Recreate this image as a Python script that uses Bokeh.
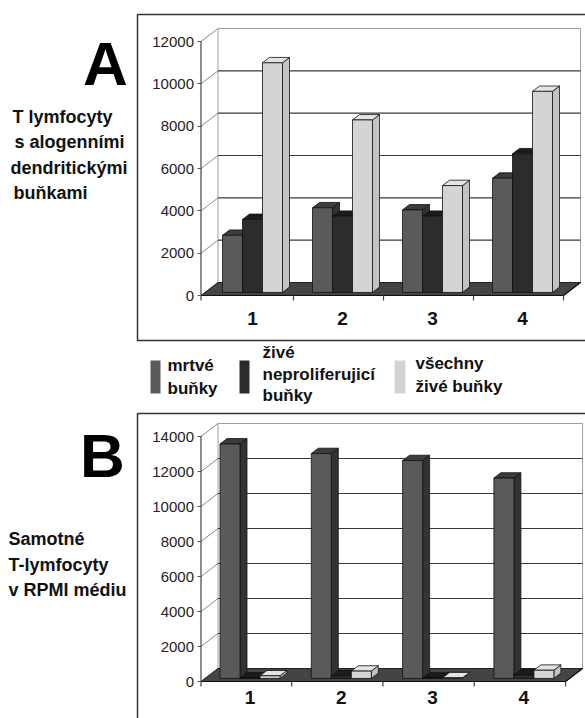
from bokeh.plotting import figure
from bokeh.models import (Range1d, FixedTicker, ColumnDataSource, CustomJSTickFormatter)
from bokeh.layouts import column
from bokeh.embed import file_html
from bokeh.resources import INLINE
from bokeh.core.properties import value

# ---------------- data ----------------
categories = ["1", "2", "3", "4"]
series_labels = [["mrtvé", "buňky"],
                 ["živé", "neproliferujicí", "buňky"],
                 ["všechny", "živé buňky"]]
series_colors = ["#5a5a5a", "#2c2c2c", "#d4d4d4"]
top_colors = ["#3c3c3c", "#1c1c1c", "#e4e4e4"]
side_colors = ["#333333", "#141414", "#c2c2c2"]

a_mrtve = [2700, 4000, 3900, 5400]
a_zive = [3450, 3600, 3600, 6550]
a_vsechny = [10850, 8150, 5050, 9500]
a_ticks = [0, 2000, 4000, 6000, 8000, 10000, 12000]

b_mrtve = [13400, 12850, 12450, 11450]
b_zive = [30, 150, 20, 200]
b_vsechny = [150, 420, 40, 470]
b_ticks = [0, 2000, 4000, 6000, 8000, 10000, 12000, 14000]

a_side_text = ["T lymfocyty", "s alogenními", "dendritickými", "buňkami"]
b_side_text = ["Samotné", "T-lymfocyty", "v RPMI médiu"]

FONT = "Liberation Sans"
W = 585


class Geo:
    """maps page pixels to the data space of one panel"""
    def __init__(self, page_y0, H, X1, KX, Y0, KY):
        self.page_y0, self.H, self.X1, self.KX, self.Y0, self.KY = page_y0, H, X1, KX, Y0, KY

    def x(self, px):
        return 1 + (px - self.X1) / self.KX

    def y(self, py):
        return (self.Y0 - py) / self.KY


def panel(series, ticks, g, letter, letter_xy, side_text, side_x, side_y0, box, xstandoff):
    p = figure(width=W, height=g.H, title=None,
               x_range=Range1d(g.x(0), g.x(W)),
               y_range=Range1d(g.y(g.page_y0 + g.H), g.y(g.page_y0)),
               output_backend="svg", toolbar_location=None, min_border=0)
    p.xgrid.visible = False
    p.ygrid.visible = False
    p.outline_line_color = None
    p.background_fill_color = "white"
    p.border_fill_color = "white"

    n = len(categories)
    DX = 17 / g.KX
    DY = 13 / g.KY
    top = ticks[-1]
    xa = g.x(200.5)
    xr = n + 0.5

    # chart-area box
    p.quad(left=[g.x(box[0])], right=[g.x(box[1])], top=[g.y(box[2])], bottom=[g.y(box[3])],
           fill_color=None, line_color="#333333", line_width=1.5)

    # left wall + back wall
    p.patch([xa, xa + DX, xa + DX, xa], [0, DY, top + DY, top],
            fill_color="white", line_color=None)
    p.patch([xa + DX, xr + DX, xr + DX, xa + DX], [DY, DY, top + DY, top + DY],
            fill_color="white", line_color="#a0a0a0", line_width=1)
    mids = ticks[1:-1]
    p.segment(x0=[xa + DX] * len(mids), y0=[t + DY for t in mids],
              x1=[xr + DX] * len(mids), y1=[t + DY for t in mids],
              line_color="#3a3a3a", line_width=1.2)
    p.segment(x0=[xa] * len(ticks), y0=ticks,
              x1=[xa + DX] * len(ticks), y1=[t + DY for t in ticks],
              line_color="#8a8a8a", line_width=1)
    # floor
    p.patch([xa, xr, xr + DX, xa + DX], [0, 0, DY, DY],
            fill_color="#444444", line_color="#222222", line_width=1)

    # bars (3D look)
    BW = 20 / g.KX
    d1 = 4 / 17
    d2 = 11 / 17
    xs, ys, fc = [], [], []
    for i in range(n):
        for k, vals in enumerate(series):
            v = vals[i]
            xc = (i + 1) + (k - 1) * BW
            l = xc - BW / 2 + d1 * DX
            r = xc + BW / 2 + d1 * DX
            b = d1 * DY
            ox = (d2 - d1) * DX
            oy = (d2 - d1) * DY
            xs.append([r, r + ox, r + ox, r]); ys.append([b, b + oy, b + v + oy, b + v])
            fc.append(side_colors[k])
            xs.append([l, r, r + ox, l + ox]); ys.append([b + v, b + v, b + v + oy, b + v + oy])
            fc.append(top_colors[k])
            xs.append([l, r, r, l]); ys.append([b, b, b + v, b + v])
            fc.append(series_colors[k])
    src = ColumnDataSource(dict(xs=xs, ys=ys, fc=fc))
    p.patches("xs", "ys", source=src, fill_color="fc", line_color="#111111",
              line_width=0.8)

    # front axis line, floor edges and category boundary ticks
    p.segment(x0=[xa], y0=[0], x1=[xa], y1=[top], line_color="#444444", line_width=1.2)
    p.segment(x0=[xa, xr], y0=[0, 0], x1=[xr, xr + DX], y1=[0, DY],
              line_color="#111111", line_width=1.2)
    bnds = [xa] + [i + 1.5 for i in range(n)]
    ytk = -5 / g.KY
    p.segment(x0=bnds, y0=[0] * len(bnds), x1=bnds, y1=[ytk] * len(bnds),
              line_color="#444444", line_width=1.2)

    # y axis, drawn at the front axis position
    ya = p.yaxis[0]
    ya.fixed_location = xa
    ya.ticker = FixedTicker(ticks=ticks, minor_ticks=[])
    ya.axis_line_color = None
    ya.major_tick_out = 4
    ya.major_tick_in = 0
    ya.major_tick_line_color = "#555555"
    ya.minor_tick_line_color = None
    ya.major_label_standoff = 3
    ya.major_label_text_font = FONT
    ya.major_label_text_font_size = "15px"
    ya.major_label_text_color = "#222222"

    # x axis: category labels under the bar groups
    xax = p.xaxis[0]
    xax.fixed_location = 0
    xax.ticker = FixedTicker(ticks=[i + 1 + d1 * DX for i in range(n)], minor_ticks=[])
    xax.formatter = CustomJSTickFormatter(args=dict(cats=categories),
                                          code="return cats[Math.round(tick) - 1]")
    xax.axis_line_color = None
    xax.major_tick_line_color = None
    xax.minor_tick_line_color = None
    xax.major_tick_out = 0
    xax.major_tick_in = 0
    xax.major_label_standoff = xstandoff
    xax.major_label_text_font = FONT
    xax.major_label_text_font_style = "bold"
    xax.major_label_text_font_size = "19px"
    xax.major_label_text_color = "#111111"

    # big panel letter
    p.text(x=[g.x(letter_xy[0])], y=[g.y(letter_xy[1])], text=[letter],
           text_font=value(FONT), text_font_style="bold", text_font_size="62px",
           text_align="center", text_baseline="alphabetic", text_color="black")
    # side description
    p.text(x=[g.x(sx) for sx in side_x],
           y=[g.y(side_y0 + 25.5 * j) for j in range(len(side_text))],
           text=side_text, text_font=value(FONT), text_font_style="bold",
           text_font_size="18px", text_align="left", text_baseline="alphabetic",
           text_color="#111111")
    return p


ga = Geo(page_y0=0, H=405, X1=248, KX=90, Y0=295, KY=254 / 12000)
gb = Geo(page_y0=405, H=313, X1=245.5, KX=91.3, Y0=681, KY=245 / 14000)

pa = panel([a_mrtve, a_zive, a_vsechny], a_ticks, ga, "A", (105, 63),
           a_side_text, [12, 14, 10, 13], 116, (137, 620, 14, 340), 16)
pb = panel([b_mrtve, b_zive, b_vsechny], b_ticks, gb, "B", (102, 455),
           b_side_text, [8, 8, 8], 538.5, (137, 620, 413, 760), 9)

# legend (inside panel A's canvas, below its chart box)
sw_x = [155, 244, 399.5]
sw_w = [10, 10, 11]
pa.rect(x=[ga.x(v) for v in sw_x], y=[ga.y(376.5)] * 3, width=sw_w, height=[33] * 3,
        width_units="screen", height_units="screen",
        fill_color=series_colors, line_color=None)
text_x = [167, 262, 415]
text_y0 = [365, 352, 363]
tx, ty, tt = [], [], []
for k, lines in enumerate(series_labels):
    step = 21.5 if len(lines) == 3 else 23
    for j, line in enumerate(lines):
        tx.append(ga.x(text_x[k])); ty.append(ga.y(text_y0[k] + step * j)); tt.append(line)
pa.text(x=tx, y=ty, text=tt, text_font=value(FONT), text_font_style="bold",
        text_font_size="17px", text_baseline="middle", text_align="left",
        text_color="#111111")

layout = column(pa, pb, spacing=0)
open("out.html", "w").write(file_html(layout, INLINE))
